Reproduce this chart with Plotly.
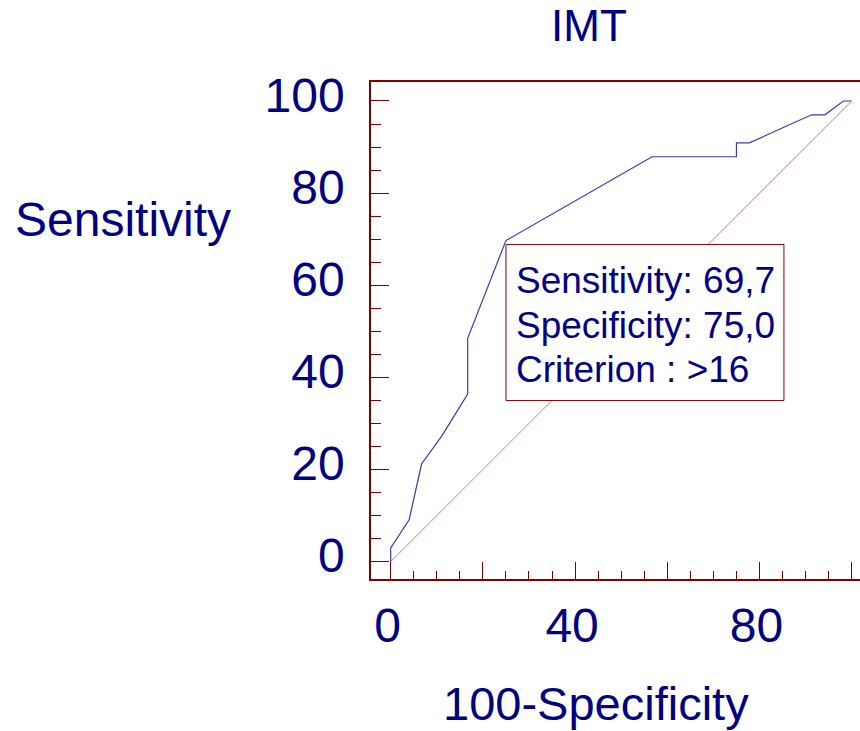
import plotly.graph_objects as go

# ---- data ----
fpr = [0, 0, 4.0, 6.7, 11.1, 16.7, 16.7, 25.0, 56.7, 75.0, 75.0, 77.8, 91.3, 94.2, 98.2, 100]
sens = [0, 3.0, 9.1, 21.2, 27.3, 36.4, 48.5, 69.7, 87.9, 87.9, 90.9, 90.9, 97.0, 97.0, 100, 100]
diag_x = [0, 100]
diag_y = [0, 100]
crit_sens = 69.7
crit_spec = 75.0
crit_label = ">16"
x_tickvals = [0, 20, 40, 60, 80, 100]
x_ticktext = ["0", "", "40", "", "80", ""]
y_tickvals = [0, 20, 40, 60, 80, 100]
y_ticktext = ["0", "20", "40", "60", "80", "100"]

NAVY = "#000080"
DARKRED = "#800000"
FONT = "Liberation Sans, Arial, sans-serif"

fig = go.Figure()
fig.add_trace(go.Scatter(x=diag_x, y=diag_y, mode="lines",
                         line=dict(color="#c47c7c", width=1), hoverinfo="skip"))
fig.add_trace(go.Scatter(x=fpr, y=sens, mode="lines",
                         line=dict(color="#3a3aaa", width=1.2), hoverinfo="skip"))

crit_x = 100 - crit_spec
# info box anchored at the criterion point
fig.add_shape(type="rect", xref="x", yref="y", xsizemode="pixel", ysizemode="pixel",
              xanchor=crit_x, yanchor=crit_sens, x0=0, x1=278, y0=-4, y1=-160,
              line=dict(color=DARKRED, width=1), fillcolor="white", layer="above")
lines = [f"Sensitivity: {crit_sens:.1f}".replace(".", ","),
         f"Specificity: {crit_spec:.1f}".replace(".", ","),
         f"Criterion : {crit_label}"]
for i, t in enumerate(lines):
    fig.add_annotation(x=crit_x, y=crit_sens, xref="x", yref="y", text=t, showarrow=False,
                       xanchor="left", yanchor="middle", xshift=8, yshift=-(40 + 44.6 * i),
                       font=dict(family=FONT, size=37, color=NAVY))

# titles
fig.add_annotation(x=0.445, y=1.1137, xref="paper", yref="paper", text="IMT", showarrow=False,
                   xanchor="center", yanchor="middle", font=dict(family=FONT, size=44, color=NAVY))
fig.add_annotation(x=-0.508, y=0.7233, xref="paper", yref="paper", text="Sensitivity", showarrow=False,
                   xanchor="center", yanchor="middle", font=dict(family=FONT, size=48, color=NAVY))
fig.add_annotation(x=0.4597, y=-0.2509, xref="paper", yref="paper", text="100-Specificity", showarrow=False,
                   xanchor="center", yanchor="middle", font=dict(family=FONT, size=47, color=NAVY))

fig.update_layout(
    width=860, height=731,
    margin=dict(l=371, r=0, t=82, b=152),
    paper_bgcolor="white", plot_bgcolor="white",
    showlegend=False,
    xaxis=dict(range=[-4.27, 101.8], showgrid=False, zeroline=False,
               showline=True, linecolor=DARKRED, linewidth=1.5, mirror=True,
               tickvals=x_tickvals, ticktext=x_ticktext,
               ticks="inside", ticklen=17, tickcolor=DARKRED, tickwidth=1,
               tickfont=dict(family=FONT, size=48, color=NAVY), ticklabelstandoff=4,
               ticklabelshift=-3,
               minor=dict(dtick=5, tick0=0, ticks="inside", ticklen=8, tickcolor=DARKRED, tickwidth=1)),
    yaxis=dict(range=[-3.76, 104.12], showgrid=False, zeroline=False,
               showline=True, linecolor=DARKRED, linewidth=1.5, mirror=False,
               tickvals=y_tickvals, ticktext=y_ticktext,
               ticks="inside", ticklen=18, tickcolor=DARKRED, tickwidth=1,
               tickfont=dict(family=FONT, size=48, color=NAVY), ticklabelstandoff=15,
               ticklabelshift=-6,
               minor=dict(dtick=5, tick0=0, ticks="inside", ticklen=10, tickcolor=DARKRED, tickwidth=1)),
)
fig.write_html("out.html")
